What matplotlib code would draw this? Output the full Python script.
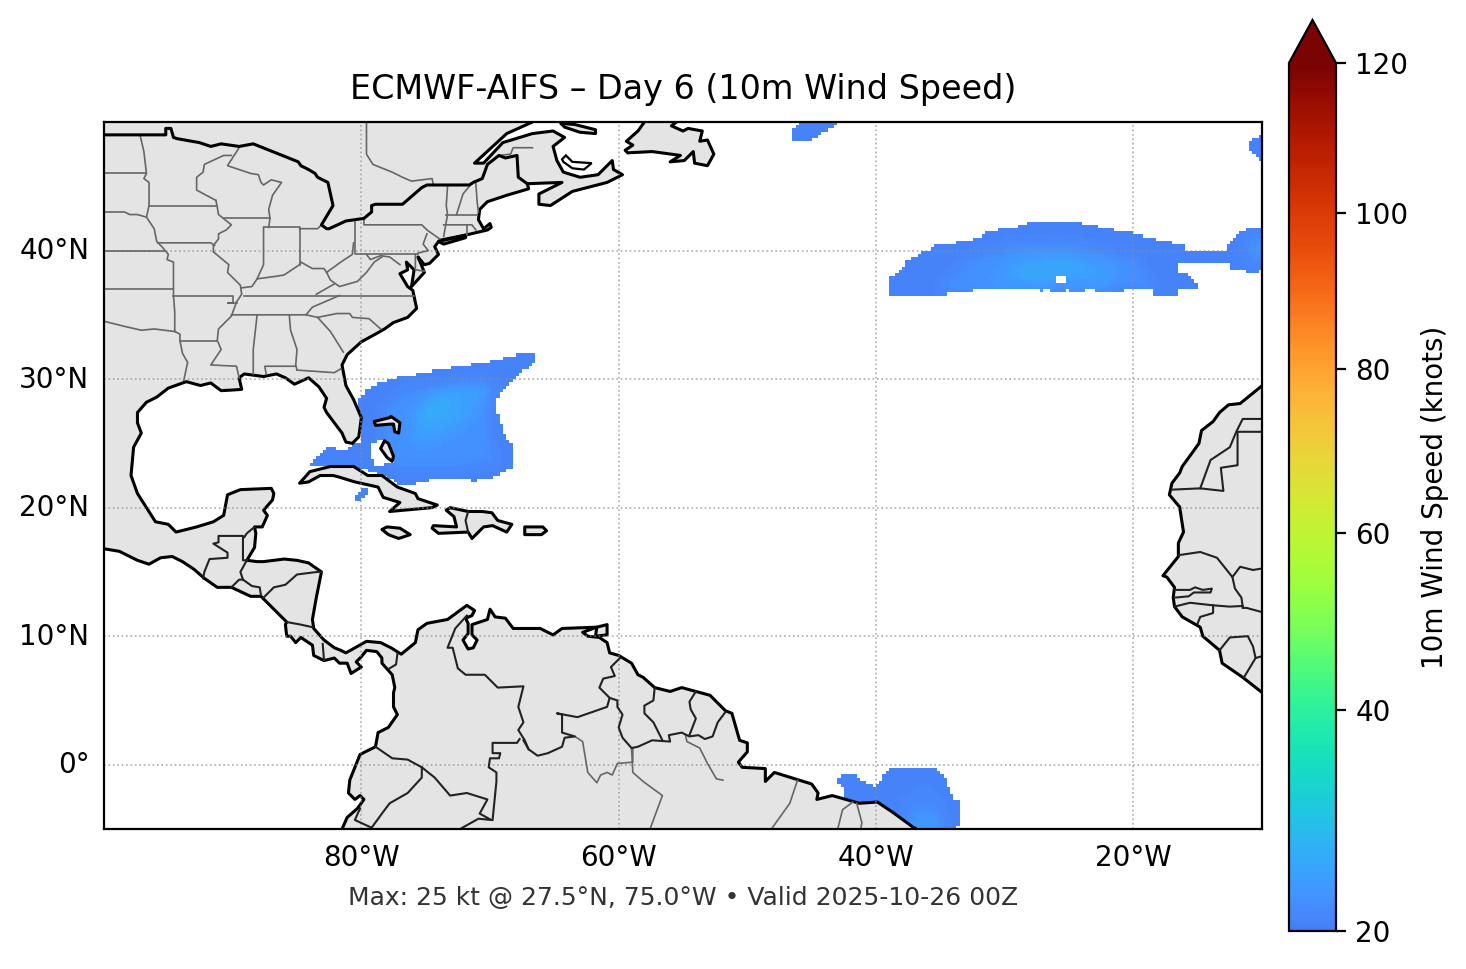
import numpy as np
import matplotlib
matplotlib.use("Agg")
import matplotlib.pyplot as plt
from matplotlib.colors import ListedColormap, PowerNorm
from matplotlib.path import Path
from matplotlib.transforms import ScaledTranslation

TITLE = "ECMWF-AIFS – Day 6 (10m Wind Speed)"
SUBTITLE = "Max: 25 kt @ 27.5°N, 75.0°W • Valid 2025-10-26 00Z"
CBAR_LABEL = "10m Wind Speed (knots)"
CBAR_TICKS = [20, 40, 60, 80, 100, 120]
LON_TICKS = [-80, -60, -40, -20]
LON_LABELS = ["80°W", "60°W", "40°W", "20°W"]
LAT_TICKS = [0, 10, 20, 30, 40]
LAT_LABELS = ["0°", "10°N", "20°N", "30°N", "40°N"]

AMERICAS = [(-66.7,51),(-66.7,50),(-68.7,49.1),(-71.2,46.8),(-70.5,46.8),(-69,48.4),(-66.7,49.1),(-65.1,49.3),(-64.2,48.8),(-65.1,48.1),(-64.8,47),(-64.3,46.1),(-63,45.7),(-61.6,45.9),(-60.5,47),(-60.4,46.3),(-59.7,45.9),(-60.9,45.3),(-63.6,44.6),(-65.3,43.5),(-66.2,43.6),(-66.2,44.4),(-64.4,45.3),(-67.1,45.2),(-67,44.8),(-68.7,44.3),(-70.2,43.8),(-70.8,43.2),(-70.9,42.4),(-70.5,41.7),(-70,42.1),(-69.9,41.8),(-70.2,41.6),(-71.9,41.2),(-73.9,40.8),(-74,40.7),(-74.3,40.3),(-74,39.7),(-74.7,39),(-75.1,38.9),(-75.6,39.5),(-75.3,38.8),(-75.1,38.3),(-76.1,37.2),(-75.9,38.5),(-76.5,39.1),(-76.4,38.5),(-77,38.2),(-76.4,37.2),(-76,36.9),(-75.7,35.5),(-76.4,34.8),(-77.5,34.4),(-78.2,33.9),(-78.9,33.5),(-80,32.9),(-81.1,31.9),(-81.5,31.1),(-81.2,29.5),(-80.6,28.4),(-80,27),(-80.2,25.5),(-80.7,25),(-81.2,25.1),(-81.5,25.8),(-82.7,27.4),(-82.9,27.8),(-82.7,28.5),(-83.3,29.4),(-84.1,30.1),(-85.2,29.6),(-85.9,30.1),(-86.6,30.4),(-87.6,30.2),(-89.1,30.4),(-89.5,30.1),(-89.3,29.2),(-90,29.15),(-90.9,29.1),(-91.7,29.7),(-92.5,29.5),(-93.6,29.8),(-95,29.3),(-95.9,28.6),(-96.7,28.2),(-97.4,27.4),(-97.4,26.6),(-97.1,25.8),(-97.7,24.7),(-97.9,22.5),(-97.4,21.1),(-96.7,20),(-96,18.9),(-95,18.7),(-94.4,18.1),(-92.8,18.5),(-91.5,18.9),(-90.7,19.4),(-90.4,21),(-89.4,21.4),(-87,21.5),(-86.8,21.1),(-86.9,20.6),(-87.6,19.8),(-87.3,19.4),(-87.7,18.5),(-88.3,18.5),(-88.2,18),(-88.3,16.9),(-88.9,15.9),(-88.1,15.8),(-87.6,15.8),(-86,16),(-85,15.9),(-84.1,15.7),(-83.1,15),(-83.5,13),(-83.8,11.3),(-83.7,10.6),(-82.9,9.7),(-82.1,9.1),(-81.6,8.9),(-81.2,8.7),(-79.6,9.6),(-78.5,9.5),(-77.7,9.1),(-76.9,8.6),(-75.8,9.5),(-75.6,10.5),(-74.9,11),(-73.3,11.3),(-71.8,12.4),(-71.2,12),(-71.4,11.6),(-71.9,11.4),(-71.7,11),(-71.7,10.2),(-72.1,9.7),(-71.7,9),(-71.3,9.1),(-71,9.7),(-71.4,10.1),(-71.4,10.9),(-70.2,11.3),(-70,12.1),(-69.6,11.5),(-68.8,11.4),(-68.2,10.6),(-66.1,10.6),(-65.1,10.1),(-64.4,10.6),(-61.7,10.7),(-62.8,10.3),(-62.4,10),(-61.5,9.9),(-60.9,9.5),(-60.7,8.7),(-60,8.5),(-59,7.9),(-58.5,7),(-58.1,6.8),(-57.2,6),(-56,5.7),(-55.1,6),(-52.9,5.4),(-51.7,4.2),(-51.2,4),(-50.6,1.9),(-50,1.7),(-50,1),(-50.7,0.2),(-50.4,-0.2),(-48.6,-0.3),(-48.6,-1.3),(-47.9,-0.6),(-45,-1.5),(-44.5,-2.2),(-44.6,-2.7),(-43.4,-2.4),(-41.3,-3),(-39.9,-2.9),(-38.7,-3.7),(-37.2,-4.8),(-36.7,-5.1),(-36,-6),(-81.5,-6),(-81.5,-5),(-81.1,-4.1),(-80.3,-3.4),(-79.8,-2.7),(-80.1,-2.4),(-80.5,-2.7),(-81,-2.2),(-80.9,-1.2),(-80.1,0.8),(-78.9,1.4),(-78.7,2.5),(-77.9,2.9),(-77.2,3.9),(-77.5,4.5),(-77.5,5.6),(-77.4,6),(-77.6,7),(-78.4,7.9),(-78.4,8.3),(-78.8,8.8),(-79.6,8.9),(-80,8.4),(-80.4,8),(-80,7.6),(-80.8,7.1),(-81.1,7.9),(-81.7,7.9),(-82.1,8.3),(-82.9,8.1),(-83.7,8.5),(-83.8,9.3),(-84.7,9.9),(-85.1,9.5),(-85.5,10),(-85.8,10),(-85.9,10.9),(-85.8,11.1),(-87.8,13.1),(-88.6,13.1),(-90.1,13.8),(-91.2,13.8),(-92.2,14.5),(-93,15.2),(-93.9,15.8),(-94.7,16.2),(-95.6,16.1),(-96.5,15.6),(-97.4,15.9),(-98.8,16.6),(-100,16.8),(-101,16.7),(-101,51)]
AFRICA = [(-9,30.3),(-10.1,29.4),(-11.7,28.1),(-12.6,28),(-13.3,27.4),(-13.8,26.7),(-14.7,26),(-14.9,25),(-15.4,24.3),(-16.2,23.2),(-16.4,22.7),(-17,21.9),(-17.2,21),(-16.4,20.05),(-16.1,18.1),(-16.5,17.25),(-16.5,16.2),(-17.7,14.7),(-17.4,14.6),(-16.8,13.8),(-16.9,13),(-16.8,12.3),(-16.2,11.5),(-14.8,10.7),(-14.6,10),(-13.3,8.9),(-13.1,7.9),(-11.5,6.8),(-10.1,5.7),(-9,4.9)]
CUBA = [(-84.8,21.9),(-84,22.8),(-82.4,23.2),(-80.6,23.2),(-79.5,22.5),(-78.4,22.5),(-77.2,21.6),(-75.8,21.1),(-75.6,20.7),(-74.1,20.2),(-74.5,20),(-77.8,19.7),(-77,20.4),(-78.3,20.8),(-78.7,21.6),(-80.5,22),(-81.8,22.4),(-82.2,22.5),(-83.2,22.5),(-84.1,22)]
JAMAICA = [(-78.4,18.3),(-78,18.5),(-77,18.4),(-76.2,17.9),(-77.1,17.6),(-77.9,17.9)]
HISPANIOLA = [(-73.4,19.8),(-73.1,20),(-71.7,19.7),(-70.6,19.7),(-69.85,19.6),(-69.4,19),(-68.3,18.7),(-68.7,18.1),(-69.8,18.6),(-70.5,18.5),(-71.4,17.6),(-71.7,18.1),(-74,18),(-74.5,18.4),(-74.4,18.6),(-72.6,18.5),(-72.8,19.3)]
PUERTO_RICO = [(-67.3,18.5),(-65.9,18.5),(-65.6,18.2),(-66,17.9),(-67.3,17.9)]
ANDROS = [(-78.5,24.6),(-78.2,25.2),(-77.9,25),(-77.5,24),(-77.6,23.6),(-78,23.9)]
ABACO = [(-79,26.7),(-77.8,27),(-77.7,27.1),(-77,26.6),(-77.1,25.8),(-77.4,25.9),(-77.5,26.5),(-77.7,26.5),(-78.9,26.4)]
TRINIDAD = [(-60.9,10.9),(-60.9,10.1),(-61.8,10),(-61.7,10.7)]
ANTICOSTI = [(-64.5,49.9),(-63.4,49.8),(-61.8,49.4),(-61.8,49.1),(-63,49.2),(-64.2,49.6)]
NEWFOUNDLAND = [(-58,51),(-58,50),(-58.5,49.3),(-59.4,48.5),(-58.9,48.2),(-59.5,47.8),(-59.3,47.6),(-57.4,47.7),(-55.2,47.4),(-56,46.9),(-54.9,47),(-54.2,47.7),(-54.1,46.8),(-53.1,46.6),(-52.6,47.5),(-53.1,48.6),(-53.7,48.5),(-53.5,49.3),(-54.6,49.5),(-55,49.3),(-55.9,49.7),(-55.5,50),(-55.5,51)]
LONG_ISLAND = [(-74,40.7),(-71.9,41.2),(-71.9,41),(-73.6,40.5)]
ISLANDS = [CUBA, JAMAICA, HISPANIOLA, PUERTO_RICO, ANDROS, ABACO, TRINIDAD, ANTICOSTI, NEWFOUNDLAND, LONG_ISLAND]
NORTHUMBERLAND = [(-64.4,47.1),(-64.1,47.4),(-63.6,46.9),(-62.1,46.8),(-62.7,46.3),(-63.6,46.4),(-64.3,46.9)]

US_CANADA = [(-100,49),(-95.2,49),(-95.2,49.5),(-94.8,49.5),(-94.6,48.8),(-94.3,48.7),(-92.6,48.4),(-91.7,48.1),(-90.9,48.3),(-89.5,48.1),(-88.4,48.3),(-84.9,46.9),(-84.7,46.6),(-84.1,46.3),(-83.6,46),(-83.4,45.7),(-82.6,45.3),(-82.2,43.5),(-83.1,42),(-82.7,41.7),(-82.5,41.7),(-81.2,42.3),(-79.8,42.5),(-79.2,43),(-79.2,43.5),(-78.9,43.6),(-76.8,43.6),(-75.3,44.9),(-74.9,45.1),(-71.6,45.1),(-71.3,45.3),(-70.6,45.6),(-70.2,46.7),(-69.3,47.4),(-68.8,47.2),(-67.9,47.4),(-67.8,45.7),(-67.1,45.2)]

STATE_LINES = [
 [(-79.6,50),(-79.6,47.5),(-79.1,46.7),(-77.6,46.1),(-76.8,45.7),(-76.1,45.4),(-74.5,45.6),(-74.4,45.1)],
 [(-66.7,48),(-68.2,48),(-68.4,47.5),(-69.3,47.4)],
 [(-97.2,49),(-96.9,47.7),(-96.7,46),(-96.9,45.6),(-96.5,45.3),(-96.5,43.5),(-96.7,42.6),(-96.1,41.7),(-95.9,40.7),(-95.5,40.3),(-95,39.7),(-95.1,39.3),(-94.6,39.1),(-94.6,37),(-94.6,36.5),(-94.5,35.2),(-94.5,33.7),(-94.1,33.5),(-94.1,33),(-93.9,32),(-93.5,31.3),(-93.8,29.9)],
 [(-100,46),(-96.7,46)],
 [(-100,43),(-98.4,43),(-98,42.8),(-97.4,42.8),(-96.7,42.6)],
 [(-96.5,43.5),(-91.2,43.5)],
 [(-100,40),(-95.3,40)],
 [(-100,37),(-94.6,37)],
 [(-95.8,40.6),(-91.7,40.6),(-91.4,40.4)],
 [(-91.3,43.9),(-91.2,43.4),(-91.1,42.8),(-90.1,42),(-90.5,41.6),(-91.1,41.3),(-91.1,40.9),(-91.5,40.4),(-91.5,39.9),(-90.3,38.9),(-90.4,38.3),(-89.4,37.3),(-89.3,36.6),(-89.7,36),(-90.1,34.9),(-91.1,33.9),(-91.2,33),(-91.1,32.8),(-90.9,32.3),(-91.7,31.1),(-89.7,31),(-89.5,30.1)],
 [(-90.1,47.4),(-90.7,47.4),(-92.2,46.7),(-92.3,46.1),(-92.8,45.7),(-92.8,44.7),(-91.3,43.9)],
 [(-89.5,48),(-90.4,46.6),(-88.6,46),(-88,45.9),(-87.8,45.3),(-87.6,45.1),(-87,45.5),(-86.2,45.3),(-86.9,44.3),(-87.2,43.2),(-87.1,42.5),(-87.2,41.8)],
 [(-90.7,42.5),(-87.1,42.5)],
 [(-87.6,41.8),(-84.8,41.8),(-84.8,38.9)],
 [(-87.6,41.8),(-87.6,38.9),(-88.1,37.8)],
 [(-89.3,37.1),(-88.5,37.2),(-88.1,37.8),(-86.6,38),(-86,38.1),(-84.8,38.9),(-84.7,39.1),(-83.8,38.6),(-82.9,38.6),(-82.7,38.3),(-81.6,39.1),(-80.7,39.7),(-80.6,40.6)],
 [(-84.8,41.7),(-83.4,41.7),(-83.1,42)],
 [(-80.5,42.2),(-80.5,39.7),(-75.6,39.7)],
 [(-79.8,42.5),(-79.8,42),(-75.3,42),(-74.9,41.6),(-73.9,40.9)],
 [(-74.9,41.3),(-75.2,40.5),(-74.8,40),(-75.6,39.8)],
 [(-75.8,39.7),(-75.8,38.5),(-75.1,38.4)],
 [(-73.3,45),(-73.4,43.5),(-73.3,42.8),(-73.6,41.1)],
 [(-71.6,45),(-72.1,44.4),(-72.6,42.8)],
 [(-71.1,45.2),(-71,43.8),(-70.9,43)],
 [(-73.4,42.8),(-71,42.8)],
 [(-73.6,42),(-71.4,42),(-71.1,41.6)],
 [(-71.8,42),(-71.8,41.2)],
 [(-79.6,39.7),(-79.3,39.3),(-78.5,39.6),(-77.8,39.5),(-77,38.9)],
 [(-82.7,38.3),(-82.4,37.7),(-81.7,37.2),(-80.3,37.6),(-79.6,38.3),(-79,39.1),(-78.4,39.5)],
 [(-82.1,37.4),(-83.5,36.6)],
 [(-89.1,36.5),(-88,36.5),(-75.9,36.5)],
 [(-94.6,36.5),(-90,36.5),(-90,35.9),(-90.4,35.9),(-89.7,35.9)],
 [(-100,34.5),(-99.2,34.3),(-98.4,34.1),(-97.1,33.8),(-96.1,33.9),(-94.5,33.7)],
 [(-94.1,33),(-91.2,33)],
 [(-88.1,35),(-88.4,32.3),(-88.4,30.4)],
 [(-90.1,35),(-84.3,35),(-83.8,35.6),(-82.4,36.2),(-81.7,36.5)],
 [(-85.6,35),(-85.5,33.8),(-85,32.3),(-85.1,31.1),(-85,30.7)],
 [(-87.4,30.4),(-87.5,31),(-85.1,31)],
 [(-85,30.7),(-82.1,30.5),(-81.6,30.8)],
 [(-83.4,34.8),(-82.4,33.7),(-81.4,32.1)],
 [(-84.3,35),(-83.4,34.8),(-81.9,35.1),(-80.9,35.1),(-80.7,34.8),(-79.4,34.7),(-78.5,33.9)],
 [(-54.8,2.3),(-54.7,1.8),(-53.7,1.3),(-53.1,0.1),(-52.4,-1.1),(-51.9,-1.2)],
 [(-63.4,2.2),(-62.8,1.8),(-62.4,-0.6),(-61.7,-1.4),(-61.4,-0.8),(-60.9,-0.6),(-60.5,-0.8),(-60.1,0.1),(-58.9,0.2),(-58.9,1.3)],
 [(-59,1.3),(-58.9,-0.6),(-58.1,-1.3),(-56.6,-2.4),(-57.6,-5.1)],
 [(-46.1,-1.2),(-46.7,-3),(-48.2,-5.1)],
 [(-41.8,-2.9),(-42.6,-3.5),(-43,-5.1)],
 [(-41.5,-3),(-41.1,-4.5),(-41.2,-5.1)],
]

COUNTRY_LINES = [
 [(-92.3,14.5),(-92.2,15),(-91.8,16),(-90.4,16.1),(-90.4,16.5),(-91.5,17.2),(-91.1,17.3),(-91.1,17.8),(-89.2,17.8),(-89.2,15.9),(-88.9,15.9)],
 [(-89.1,17.7),(-88.9,18),(-88.3,18.5)],
 [(-88.9,15.9),(-89.4,15),(-89.2,14.4)],
 [(-90.1,13.8),(-89.5,14.4),(-89.2,14.4),(-88.5,13.9),(-87.9,13.8),(-87.8,13.2)],
 [(-87.6,13),(-86.8,13.8),(-85.9,14),(-85,14.8),(-83.4,15),(-83.1,15)],
 [(-85.8,11.1),(-84.7,10.9),(-83.8,10.7)],
 [(-83,9.4),(-82.9,8.1)],
 [(-77.2,8.6),(-77.3,7.8),(-77.8,7.5)],
 [(-71.8,11.6),(-72.7,10.6),(-73.3,9.1),(-72.9,9.1),(-72.5,7.5),(-71.9,7),(-70.4,7),(-69.4,6),(-67.4,6.1),(-67.8,4.5),(-67.4,3.3),(-67.8,2.7),(-67.3,1.9),(-67,1.2)],
 [(-67.7,2),(-67.9,1.7),(-69.8,1.7),(-69.8,0.9),(-69.2,0.9),(-69.3,0.5),(-70,0.5),(-70.1,-0.2),(-69.5,-0.6),(-69.5,-1.3),(-69.8,-4.3)],
 [(-78.9,1.4),(-77.6,0.5),(-76.4,0.4),(-75.3,-0.2),(-74.3,-1),(-73.1,-2.4),(-71.8,-2.2),(-70.2,-2.7),(-70.8,-3.8),(-69.9,-4.3),(-70.9,-4.2),(-72.5,-5.1)],
 [(-75.3,-0.2),(-75.3,-1),(-76.4,-2.2),(-77.8,-3),(-78.4,-3.8),(-79.2,-4.9),(-80.5,-4.3),(-80.1,-3.4)],
 [(-59.9,8.3),(-60.6,7.6),(-60.3,6.9),(-61.2,6.7),(-61.5,6),(-60.7,5.2),(-60.9,4.5),(-63.2,3.7),(-64.8,4),(-64.4,3.9),(-64.4,2.5),(-63.4,2.2),(-64.2,2.1),(-64.4,1.4),(-65.5,0.9),(-66.3,0.7),(-67,1.2),(-67.4,1.9)],
 [(-60.7,5.2),(-60.1,5),(-60.1,4.5),(-59.7,3.9),(-60,2.9),(-59.7,2.1),(-59,1.3),(-58.5,1.4),(-57.4,1.9),(-56,1.8),(-56.1,2.3),(-55.1,2.5),(-54.5,2.2),(-53.8,2.3),(-53.3,2),(-52.7,2.2),(-52.3,3.3),(-51.7,4.1)],
 [(-57.2,6),(-57.3,5),(-58,4.6),(-58,4),(-57.3,3.3),(-56.6,1.9)],
 [(-54,5.7),(-54.5,4.9),(-54.4,4.3),(-54,3.6),(-54.5,2.3)],
 [(-71.7,19.7),(-71.9,19),(-71.7,18.1)],
 [(-17,21.4),(-14.8,21.5),(-13,21.3),(-13.2,23.1),(-11.9,23.3),(-11.9,25.9),(-9.8,25.9)],
 [(-14.8,21.5),(-14,23.7),(-12.5,24.7),(-12,25.9),(-11.5,26.9),(-9.8,26.9)],
 [(-16.5,16.3),(-14.8,16.55),(-13.5,16.1),(-12.3,14.6),(-11.7,15.4),(-10.7,15.15),(-9.8,15.3)],
 [(-12.3,14.6),(-12.1,13.7),(-11.6,13),(-11.5,12.3)],
 [(-11.5,12.2),(-11.2,12.2),(-10.1,11.9),(-9.8,11.9)],
 [(-16.8,13.6),(-15.6,13.6),(-15.2,13.8),(-14.6,13.6),(-13.9,13.7),(-14,13.4),(-15.3,13.4),(-15.7,13.1),(-16.8,13)],
 [(-16.8,12.3),(-15.6,12.6),(-13.8,12.4),(-12.5,12.3),(-11.5,12.35)],
 [(-13.8,12.4),(-13.8,11.8),(-14.8,11.5),(-15,11)],
 [(-13.3,8.9),(-12.5,9.9),(-11.1,10),(-10.7,9.2),(-10.5,8.3),(-9.8,8.5)],
 [(-10.5,8.3),(-11.4,6.8)],
]

WIND_BAHAMAS = [(-67.9,31.9),(-66.4,31.9),(-66.4,31.3),(-67.7,30.5),(-68.2,29.8),(-69.2,28.9),(-69.4,28.4),(-69.4,27.2),(-69.1,26.4),(-68.7,25.4),(-68.2,24.9),(-68.2,23.1),(-69,22.8),(-69.5,22.4),(-71.2,22.1),(-73.9,22.3),(-74.3,22.2),(-75.7,21.9),(-77,21.7),(-77.8,22.3),(-79.2,22.8),(-80.6,23.1),(-82.4,23.2),(-84,23.2),(-84.1,23.4),(-83.4,24),(-82.7,24.8),(-81.9,24.9),(-81.9,24.6),(-80.9,24.6),(-80.7,25),(-80,25.1),(-80.1,26),(-80.2,28.4),(-79.5,29.3),(-78.2,29.8),(-77.4,30.1),(-76,30.3),(-74.7,30.6),(-71.7,31.1),(-70.4,31.3),(-69.2,31.6)]
WIND_BAHAMAS_MID = [(-78.2,27.6),(-77,29),(-73.9,29.5),(-70.8,29.9),(-69.6,29.5),(-70.2,27.6),(-70,25.3),(-69.6,23.6),(-73.9,22.9),(-77,22.9),(-78.2,24.5)]
WIND_BAHAMAS_CORE = [(-76.2,26.8),(-75,28.8),(-71.5,29.5),(-70.3,29),(-71.5,26.8),(-73.9,25.3),(-75.8,24.9)]
WIND_BAHAMAS_PEAK = [(-75.5,27.5),(-74,28.6),(-72.5,28.9),(-73,27),(-75,26.5)]
WIND_ANDROS_GAP = [(-79.2,24.9),(-78.2,25.3),(-77.8,24.9),(-77.4,23.5),(-78.9,23.3),(-79.2,23.8)]
WIND_CUBA_SOUTH = [(-80.4,21),(-79.9,21.4),(-79.4,21.4),(-79.5,21),(-79.9,20.6),(-80.4,20.6)]
WIND_AZORES = [(-39.1,36.4),(-35.6,36.4),(-34.2,36.7),(-32.4,36.9),(-27.3,37.1),(-27.2,36.85),(-26.9,36.85),(-26.9,37.1),(-26.6,37.1),(-26.6,36.85),(-25.2,36.85),(-25.2,37.1),(-24.9,37.1),(-24.9,36.85),(-24.1,36.85),(-24.1,37.1),(-23.9,37.1),(-23.9,36.85),(-23.7,36.85),(-23.7,37.1),(-22.9,37.1),(-22.9,36.85),(-18.6,36.9),(-18.6,36.6),(-16.4,36.6),(-16.4,36.9),(-14.9,36.9),(-14.9,37.3),(-15.8,38.1),(-16.4,38.3),(-16.4,38.9),(-13.9,38.9),(-13.9,39.1),(-13.2,39.1),(-13.2,38.9),(-12.4,38.9),(-12.4,38.6),(-11.2,38.6),(-11.2,38.3),(-10.4,38.3),(-9.8,38.5),(-9.8,41.8),(-10.9,41.8),(-11.4,41.6),(-12,41.1),(-12.7,40.3),(-12.7,40.1),(-13.7,40.1),(-14.2,39.9),(-15.9,40.1),(-15.9,40.4),(-16.9,40.6),(-17.9,40.8),(-19.2,41.1),(-20.1,41.4),(-21.4,41.6),(-22.4,41.8),(-23.7,42.1),(-25.2,42.3),(-27.9,42.3),(-28.4,42.1),(-29.1,41.8),(-30.7,41.6),(-31.4,41.4),(-31.9,41.1),(-32.6,40.8),(-33.9,40.6),(-35.4,40.4),(-35.9,40.1),(-36.4,39.9),(-36.9,39.6),(-37.4,39.3),(-37.7,39.1),(-37.9,38.8),(-38.4,38.3),(-38.9,37.9),(-39.1,37.3)]
WIND_AZORES_MID = [(-35,37.1),(-33,39.2),(-29,40.6),(-24,40.4),(-20,39.4),(-18.5,37.3),(-24,37),(-29,37)]
WIND_AZORES_CORE = [(-31,37.5),(-29.5,39.5),(-26,39.9),(-21.5,39),(-21.5,37.3),(-26,37.3)]
WIND_AZORES_PEAK = [(-29.5,37.8),(-28.5,38.9),(-25,39.3),(-23,38.5),(-27,37.6)]
WIND_IBERIA_EDGE = [(-11,39.2),(-11,41),(-9.8,41),(-9.8,39.2)]
WIND_AZORES_GAP = [(-25.6,38.1),(-25.2,38.1),(-25.2,37.6),(-25.9,37.6),(-25.9,37.9),(-25.6,37.9)]
WIND_BRAZIL = [(-42.9,-1),(-42.4,-0.7),(-41.4,-0.7),(-41.4,-1),(-40.1,-1.7),(-39.7,-1.4),(-39.3,-0.6),(-38.7,-0.2),(-36.7,-0.2),(-35.4,-0.2),(-34.6,-1),(-34.4,-1.7),(-34,-2.6),(-33.6,-2.7),(-33.6,-3.7),(-33.4,-3.8),(-33.6,-4.7),(-33.9,-5.2),(-38.1,-5.2),(-41.5,-3.5),(-42.4,-3),(-42.4,-1.7),(-42.9,-1.6)]
WIND_BRAZIL_MID = [(-38,-5.2),(-38,-2.8),(-36,-1.5),(-34.8,-3),(-34.5,-5.2)]
WIND_BRAZIL_CORE = [(-37.5,-5.2),(-37,-3.5),(-35,-4),(-35,-5.2)]
WIND_BRAZIL_PEAK = [(-37,-5.2),(-36.5,-4.5),(-36,-5.2)]
WIND_NORTH = [(-46.5,49.3),(-45.9,50.1),(-42.6,50.1),(-45,48.6),(-46.1,48.4),(-46.5,48.6)]
WIND_EAST = [(-10.9,48.6),(-9.8,49.1),(-9.8,46.9),(-10.5,47.2),(-10.9,47.8)]

WIND_LAYERS = [(WIND_BAHAMAS, 20.5), (WIND_BAHAMAS_MID, 22), (WIND_BAHAMAS_CORE, 24), (WIND_BAHAMAS_PEAK, 25.5),
               (WIND_CUBA_SOUTH, 20.4),
               (WIND_AZORES, 20.5), (WIND_AZORES_MID, 22), (WIND_AZORES_CORE, 23.5), (WIND_AZORES_PEAK, 25), (WIND_IBERIA_EDGE, 22.5),
               (WIND_BRAZIL, 20.4), (WIND_BRAZIL_MID, 21.2), (WIND_BRAZIL_CORE, 23), (WIND_BRAZIL_PEAK, 25),
               (WIND_NORTH, 20.4), (WIND_EAST, 20.4)]
WIND_GAPS = [WIND_ANDROS_GAP, WIND_AZORES_GAP]

W, H = 1466, 969
fig = plt.figure(figsize=(W / 200, H / 200), dpi=200, facecolor="white")
ax = fig.add_axes([104 / W, (H - 829) / H, 1158 / W, 707 / H])
ax.set_xlim(-100, -10)
ax.set_ylim(-5, 50)

lon_edges = np.arange(-100, -9.99, 0.25)
lat_edges = np.arange(-5, 50.01, 0.25)
lon_c, lat_c = np.meshgrid(lon_edges[:-1] + 0.125, lat_edges[:-1] + 0.125)
pts = np.column_stack([lon_c.ravel(), lat_c.ravel()])
wind = np.full(lon_c.shape, np.nan)
for poly, level in WIND_LAYERS:
    wind[Path(poly + poly[:1]).contains_points(pts).reshape(lon_c.shape)] = level
for poly in WIND_GAPS:
    wind[Path(poly + poly[:1]).contains_points(pts).reshape(lon_c.shape)] = np.nan

# soften the bands between the read levels, inside the wind areas only
valid = np.isfinite(wind)
field = np.where(valid, wind, 0.0)
for _ in range(6):
    num = field * valid
    den = valid.astype(float)
    pad_n = np.pad(num, 1)
    pad_d = np.pad(den, 1)
    s_n = pad_n[1:-1, 1:-1] + pad_n[:-2, 1:-1] + pad_n[2:, 1:-1] + pad_n[1:-1, :-2] + pad_n[1:-1, 2:]
    s_d = pad_d[1:-1, 1:-1] + pad_d[:-2, 1:-1] + pad_d[2:, 1:-1] + pad_d[1:-1, :-2] + pad_d[1:-1, 2:]
    field = np.where(valid, s_n / np.maximum(s_d, 1), 0.0)
wind = np.where(valid, field, np.nan)

base = plt.get_cmap("turbo")
cmap = ListedColormap(base(np.linspace(0.155, 1.0, 256)))
cmap.set_over(base(1.0))
norm = PowerNorm(gamma=0.85, vmin=20, vmax=120)
mesh = ax.pcolormesh(lon_edges, lat_edges, np.ma.masked_invalid(wind), cmap=cmap, norm=norm, zorder=1)

for poly in [AMERICAS, AFRICA] + ISLANDS:
    xs, ys = zip(*poly)
    ax.fill(xs, ys, facecolor="#e4e4e4", edgecolor="black", linewidth=1.1, joinstyle="round", zorder=2)
xs, ys = zip(*NORTHUMBERLAND)
ax.fill(xs, ys, facecolor="white", edgecolor="black", linewidth=0.8, zorder=3)

for line in STATE_LINES:
    xs, ys = zip(*line)
    ax.plot(xs, ys, color="#666666", lw=0.6, solid_joinstyle="round", zorder=3)
for line in COUNTRY_LINES:
    xs, ys = zip(*line)
    ax.plot(xs, ys, color="#222222", lw=0.75, solid_joinstyle="round", zorder=3.2)
xs, ys = zip(*US_CANADA)
ax.plot(xs, ys, color="black", lw=1.1, solid_joinstyle="round", zorder=3.4)

ax.set_xticks(LON_TICKS, LON_LABELS, fontsize=10)
ax.set_yticks(LAT_TICKS, LAT_LABELS, fontsize=10)
ax.tick_params(length=0, pad=5.3)
lift = ScaledTranslation(0, 2.5 / 200, fig.dpi_scale_trans)
for label in ax.get_yticklabels():
    label.set_transform(label.get_transform() + lift)
ax.grid(True, color="#8c8c8c", lw=0.6, ls=":", alpha=0.7, zorder=4)
ax.set_axisbelow(False)
for s in ax.spines.values():
    s.set_linewidth(0.8)
    s.set_zorder(6)

fig.text(683 / W, 1 - 90 / H, TITLE, ha="center", va="center", fontsize=12)
fig.text(683 / W, 1 - 898 / H, SUBTITLE, ha="center", va="center", fontsize=9, color="#333333")

cax = fig.add_axes([1289 / W, (H - 931) / H, 47 / W, 911 / H])
cb = fig.colorbar(mesh, cax=cax, extend="max", extendfrac=0.0495, ticks=CBAR_TICKS)
cb.ax.tick_params(labelsize=10)
cb.minorticks_off()
cb.set_label(CBAR_LABEL, fontsize=10, labelpad=4.4)

fig.savefig("out.png", dpi=200, facecolor="white")
